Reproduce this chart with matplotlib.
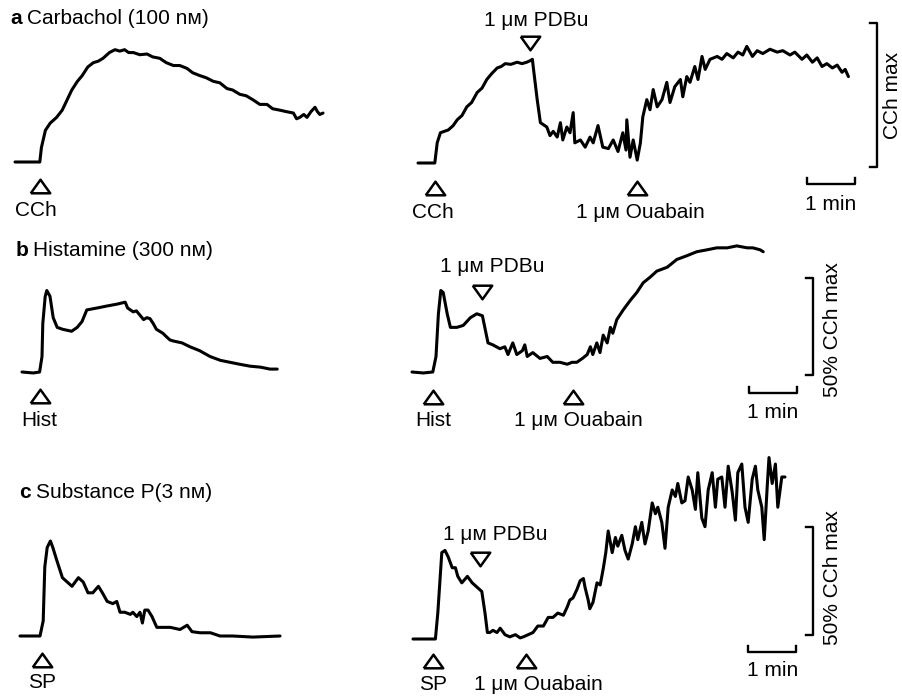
"""
Ca2+ traces: carbachol / histamine / substance P, each with PDBu + ouabain
left column: agonist alone, right column: agonist -> PDBu -> ouabain
"""
import numpy as np
import matplotlib.pyplot as plt

plt.rcParams['font.family'] = ['Liberation Sans', 'DejaVu Sans']

W, H = 903, 696          # figure size in pixels
PX_PER_S = 0.8           # chart speed (1 min = 48 px)
FS = 15

# ── traces: time (s) and response (% of CCh max) ─────────────────────────
A_LEFT_T = [0, 31, 33, 38, 44, 52, 59, 65, 71, 78, 84, 91, 98, 104, 110, 118, 125, 131,
            137, 142, 148, 156, 165, 172, 181, 189, 198, 206, 215, 222, 231, 239, 248,
            256, 265, 272, 281, 289, 298, 306, 315, 322, 331, 339, 348, 352, 356, 361,
            365, 370, 375, 378, 381, 385]
A_LEFT_R = [0, 0, 10, 22, 27, 31, 36, 43, 50, 56, 60, 66, 69, 70, 72, 76, 78, 77,
            78, 76, 76, 74.5, 75, 73, 72, 69, 67, 67, 65, 62, 60, 58.5, 56,
            55, 51, 50, 47, 46, 43, 40, 40, 37, 36, 35, 34, 30, 31, 33,
            31, 35, 38, 35, 33, 34]

A_RIGHT_T = [0, 21, 24, 28, 38, 44, 49, 55, 61, 67, 74, 80, 86, 92, 99, 104, 109, 116,
             124, 130, 136, 140, 143, 144, 149, 153,
             161, 165, 169, 174, 178, 181, 186, 190, 194, 196, 203, 209, 215, 219, 225,
             231, 238, 244, 250, 256, 260, 261, 265, 269, 274, 278, 281, 286, 290, 294,
             299, 305, 311, 315, 321, 328, 331, 336, 340, 346, 350, 355, 359, 365, 374,
             380, 386, 394, 400, 406, 411, 418, 424, 431, 440, 449, 456, 465, 471, 480,
             486, 493, 499, 505, 511, 518, 524, 530, 534, 538]
A_RIGHT_R = [0, 0, 14, 21, 23, 26, 30, 33, 39, 42, 49, 52, 58, 62, 66, 67, 69, 68.5,
             70, 69, 70, 71, 72, 67, 44, 28,
             25, 19, 22, 18, 28, 16, 25, 21, 35, 14, 16, 11, 18, 14, 26,
             11, 10, 16, 8, 21, 9, 30, 4, 16, 2, 14, 32, 44, 37, 51,
             39, 44, 56, 42, 53, 58, 46, 60, 56, 67, 58, 74, 65, 72, 74,
             72, 76, 73, 77, 75, 81, 74, 78, 76, 79, 77, 78, 75, 77, 72,
             75, 70, 73, 67, 69, 66, 68, 63, 65, 60]

B_LEFT_T = [0, 14, 22, 25, 26, 29, 31, 35, 39, 44, 51, 62, 69, 75, 81, 94, 106, 119,
            129, 132, 139, 143, 148, 152, 156, 160, 164, 168, 172, 176, 181, 185, 189,
            200, 210, 222, 235, 248, 260, 272, 285, 298, 310, 319]
B_LEFT_R = [0, -0.5, 0, 8, 25, 39, 42, 39, 28, 23, 22, 21, 23, 26, 32, 33, 34, 35,
            36, 33, 31, 31.5, 29, 27, 28, 27.5, 25, 22, 21, 20, 18, 16.5, 16,
            15, 13, 11, 8, 6, 5, 4, 3, 2.5, 1.5, 1.5]

B_RIGHT_T = [0, 14, 26, 30, 33, 36, 39, 44, 48, 56, 64, 73, 81, 88, 91, 95, 101, 110,
             116, 120, 126, 131, 138, 141, 144, 151, 160, 169, 176, 185, 194, 200, 206,
             213, 219, 223, 226, 231, 235, 239, 244, 248, 251, 256, 264, 273, 281, 289,
             298, 306, 319, 331, 344, 356, 369, 381, 394, 406, 419, 426, 435, 439]
B_RIGHT_R = [0, -0.5, 0, 8, 30, 42, 41, 30, 23, 23, 24, 28, 30, 29, 23, 15, 14, 12,
             13, 9, 15, 9, 11, 14, 8, 10, 7, 8, 5, 5, 4, 5, 5,
             7, 9, 13, 9, 15, 10, 19, 15, 23, 20, 27, 32, 37, 41, 46,
             49, 52, 54, 58, 60, 62, 63, 64, 64, 65, 64, 64, 63, 62]

C_LEFT_T = [0, 25, 29, 31, 34, 38, 41, 46, 53, 59, 65, 73, 79, 85, 91, 98, 103, 109,
            116, 121, 125, 131, 138, 141, 146, 150, 153, 156, 160, 165, 171, 179, 188,
            200, 209, 215, 225, 238, 250, 266, 291, 325]
C_LEFT_R = [0, 0, 7, 32, 41, 44, 41, 35, 27, 25, 23, 27, 25, 20, 20, 23, 20, 16,
            15, 16, 11, 11, 10, 11, 9, 11, 6, 12, 12, 9, 4, 4, 4,
            3, 5, 2, 1.5, 1.5, 0, 0, -0.5, 0]

C_RIGHT_T = [0, 28, 31, 36, 40, 44, 49, 53, 56, 61, 68, 74, 80, 86, 90, 93, 96, 100,
             105, 109, 115, 121, 128, 134, 138, 144, 150, 156, 163, 169, 175, 181, 188,
             193, 196, 200, 205, 209, 213, 215, 219, 221, 225, 230, 234, 238, 241, 244,
             249, 253, 256, 261, 265, 269, 274, 278, 281, 286, 290, 294, 299, 303, 306,
             311, 315, 319, 324, 328, 331, 336, 340, 344, 349, 353, 356, 361, 365, 369,
             374, 378, 381, 386, 390, 394, 399, 403, 406, 411, 415, 419, 424, 428, 431,
             436, 439, 443, 445, 449, 453, 456, 461, 465]
C_RIGHT_R = [0, 0, 12, 40, 41, 38, 33, 33, 29, 26, 29, 26, 24, 22, 12, 3, 3, 4,
             3, 5, 2, 1, 2, 0.5, 1, 2, 3, 6, 6, 10, 10, 12, 11,
             15, 18, 19, 23, 27, 28, 24, 18, 14, 17, 26, 25, 33, 40, 50,
             40, 47, 43, 48, 41, 37, 44, 52, 46, 54, 44, 50, 63, 58, 61,
             54, 42, 61, 69, 66, 72, 63, 64, 75, 69, 60, 77, 56, 52, 69,
             77, 61, 74, 75, 61, 80, 68, 55, 77, 81, 61, 54, 74, 80, 69,
             61, 46, 72, 84, 72, 81, 61, 75, 75]

# additions: (label, time s, direction)
A_LEFT_ADD = [('CCh', 31, 'up')]
A_RIGHT_ADD = [('CCh', 21, 'up'), ('1 μм PDBu', 140, 'down'), ('1 μм Ouabain', 274, 'up')]
B_LEFT_ADD = [('Hist', 22, 'up')]
B_RIGHT_ADD = [('Hist', 26, 'up'), ('1 μм PDBu', 88, 'down'), ('1 μм Ouabain', 201, 'up')]
C_LEFT_ADD = [('SP', 27, 'up')]
C_RIGHT_ADD = [('SP', 25, 'up'), ('1 μм PDBu', 84, 'down'), ('1 μм Ouabain', 141, 'up')]

TIME_BAR_S = 60           # 1 min
A_BAR_PCT = 100           # CCh max
BC_BAR_PCT = 50           # 50 % CCh max

TRI_UP = [(-1, -0.7), (1, -0.7), (0, 0.7), (-1, -0.7)]
TRI_DN = [(-1, 0.7), (1, 0.7), (0, -0.7), (-1, 0.7)]

fig = plt.figure(figsize=(W / 100, H / 100), dpi=100)
fig.patch.set_facecolor('white')


def add_panel(box, x0, yb, k):
    """box = (left, right, top, bottom) px; (x0, yb) = trace origin px; k = px per %"""
    l, r, t, b = box
    ax = fig.add_axes([l / W, 1 - b / H, (r - l) / W, (b - t) / H])
    ax.set_xlim((l - x0) / PX_PER_S, (r - x0) / PX_PER_S)
    ax.set_ylim((yb - b) / k, (yb - t) / k)
    ax.axis('off')
    ax.k = k
    return ax


def draw_trace(ax, t, r):
    ax.plot(t, r, color='black', lw=2.2, solid_joinstyle='round',
            solid_capstyle='round', clip_on=False)


def draw_adds(ax, adds, up_tri, up_lab, dn_tri, dn_lab, lab_dx):
    k = ax.k
    for (lab, t, d), dx in zip(adds, lab_dx):
        if d == 'up':
            ty, ly, mk = up_tri, up_lab, TRI_UP
        else:
            ty, ly, mk = dn_tri, dn_lab, TRI_DN
        ax.plot(t, ty / k, marker=mk, markersize=14, markerfacecolor='white',
                markeredgecolor='black', markeredgewidth=1.8, clip_on=False)
        ax.text(t + dx / PX_PER_S, ly / k, lab, ha='center', va='center',
                fontsize=FS, clip_on=False)


def time_bar(ax, t0, y_px, lab_px):
    k = ax.k
    y = y_px / k
    tick = 6 / k
    ax.plot([t0, t0, t0 + TIME_BAR_S, t0 + TIME_BAR_S], [y + tick, y, y, y + tick],
            color='black', lw=1.7, clip_on=False)
    ax.text(t0 + TIME_BAR_S / 2, lab_px / k, '1 min', ha='center', va='center',
            fontsize=FS, clip_on=False)


def amp_bar(ax, t0, r0, pct):
    tick = 7 / PX_PER_S
    ax.plot([t0 - tick, t0, t0, t0 - tick], [r0, r0, r0 + pct, r0 + pct],
            color='black', lw=1.7, clip_on=False)


# ── row a ───────────────────────────────────────────────────────────────
ax = add_panel((0, 390, 0, 230), 15, 162, 1.44)
draw_trace(ax, A_LEFT_T, A_LEFT_R)
draw_adds(ax, A_LEFT_ADD, -24, -49, 0, 0, [-4])

ax = add_panel((390, 903, 0, 230), 418, 163, 1.44)
draw_trace(ax, A_RIGHT_T, A_RIGHT_R)
draw_adds(ax, A_RIGHT_ADD, -25, -49, 120, 143, [-2, 6, 3])
time_bar(ax, 486, -21, -42)
amp_bar(ax, 574, -3, A_BAR_PCT)
fig.text(893 / W, 1 - 95 / H, 'CCh max', rotation=90, ha='center', va='center', fontsize=FS)

# ── row b ───────────────────────────────────────────────────────────────
ax = add_panel((0, 390, 230, 440), 22, 372, 1.94)
draw_trace(ax, B_LEFT_T, B_LEFT_R)
draw_adds(ax, B_LEFT_ADD, -24, -48, 0, 0, [0])

ax = add_panel((390, 903, 230, 440), 412, 372, 1.94)
draw_trace(ax, B_RIGHT_T, B_RIGHT_R)
draw_adds(ax, B_RIGHT_ADD, -25, -49, 80, 105, [0, 10, 6])
time_bar(ax, 421, -21, -41)
amp_bar(ax, 501, -1.5, BC_BAR_PCT)
fig.text(833 / W, 1 - 330 / H, '50% CCh max', rotation=90, ha='center', va='center', fontsize=FS)

# ── row c ───────────────────────────────────────────────────────────────
ax = add_panel((0, 390, 440, 696), 20, 636, 2.16)
draw_trace(ax, C_LEFT_T, C_LEFT_R)
draw_adds(ax, C_LEFT_ADD, -24, -47, 0, 0, [0])

ax = add_panel((390, 903, 440, 696), 413, 639, 2.16)
draw_trace(ax, C_RIGHT_T, C_RIGHT_R)
draw_adds(ax, C_RIGHT_ADD, -22, -46, 80, 105, [0, 15, 13])
time_bar(ax, 419, -13, -31)
amp_bar(ax, 500, 2, BC_BAR_PCT)
fig.text(833 / W, 1 - 578 / H, '50% CCh max', rotation=90, ha='center', va='center', fontsize=FS)

# ── panel titles ────────────────────────────────────────────────────────
for letter, rest, x, y in [('a', 'Carbachol (100 nм)', 10, 19),
                           ('b', 'Histamine (300 nм)', 16, 251),
                           ('c', 'Substance P(3 nм)', 19, 493)]:
    fig.text(x / W, 1 - y / H, letter, fontsize=FS, fontweight='bold', ha='left', va='center')
    fig.text((x + 17) / W, 1 - y / H, rest, fontsize=FS, ha='left', va='center')

fig.savefig('out.png', dpi=100, facecolor='white')
